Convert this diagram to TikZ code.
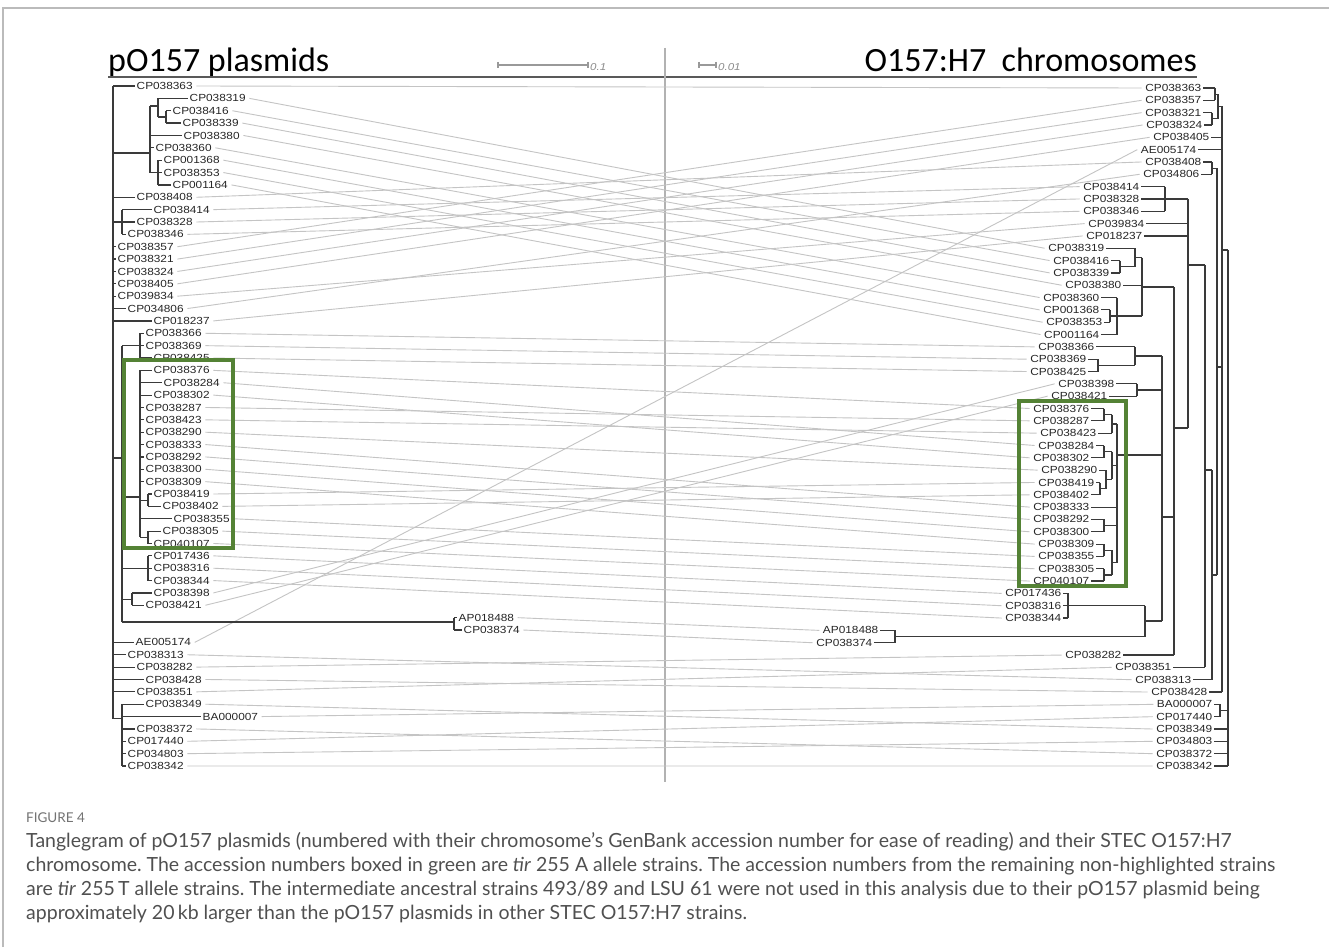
\documentclass[tikz,border=0pt]{standalone}
\usepackage{fontspec}
\setmainfont{Liberation Sans}
\newfontfamily\lblfont{Liberation Sans}[FakeStretch=1.15]
\newfontfamily\ttlfont{Carlito}
\newfontfamily\capfont{Lato}
\frenchspacing
\definecolor{treec}{HTML}{3A3A3A}
\definecolor{connc}{HTML}{C4C4C4}
\definecolor{boxgreen}{HTML}{548235}
\definecolor{framec}{HTML}{BBBBBB}
\definecolor{capc}{HTML}{505050}
\tikzset{
  lbl/.style={font=\lblfont\fontsize{10.3}{11}\selectfont, text=black!85, inner sep=1.5pt},
  llbl/.style={lbl, anchor=west},
  rlbl/.style={lbl, anchor=east},
  tree/.style={draw=treec, line width=1.2pt},
  conn/.style={draw=connc, line width=0.9pt},
  greenbox/.style={draw=boxgreen, line width=4pt},
  ttl/.style={font=\ttlfont\fontsize{34}{36}\selectfont, inner sep=0pt},
  capline/.style={font=\capfont\fontsize{19.5}{22}\selectfont, text=capc, anchor=west, inner sep=0pt},
  scalebar/.style={draw=black!40, line width=1.2pt},
  sclbl/.style={font=\lblfont\itshape\fontsize{10}{11}\selectfont, text=black!45, anchor=west, inner sep=1pt}
}
\newcommand\lb[2]{\draw[tree] (#1,0 |- l-#2.west) -- (l-#2.west);}
\newcommand\rb[2]{\draw[tree] (r-#2.east) -- (#1,0 |- r-#2.east);}
\begin{document}
\begin{tikzpicture}[x=1pt,y=-1pt]
\useasboundingbox (0,0) rectangle (1329,947);
\fill[white] (0,0) rectangle (1329,947);
\draw[draw=framec, line width=1.5pt] (3,947) -- (3,8) -- (1329,8);

% titles
\node[ttl, anchor=base west] (t1) at (108,72) {pO157 plasmids};
\node[ttl, anchor=base east] (t2) at (1197,72) {O157:H7\ \ chromosomes};
\draw[draw=black!65, line width=2pt] (108,77) -- (1197,77);
\draw[draw=black!30, line width=1.3pt] (665,48) -- (665,782);
% scale bars
\draw[scalebar] (498,62) -- (498,68) (498,65) -- (588,65) (588,62) -- (588,68);
\node[sclbl] (s1) at (589,67) {0.1};
\draw[scalebar] (699,62) -- (699,68) (699,65) -- (716,65) (716,62) -- (716,68);
\node[sclbl] (s2) at (717,67) {0.01};

% left leaves
\foreach \i/\n/\x in {1/CP038363/135,2/CP038319/188,3/CP038416/171,4/CP038339/181,5/CP038380/182,6/CP038360/154,7/CP001368/162,8/CP038353/162,9/CP001164/171,10/CP038408/135,11/CP038414/152,12/CP038328/135,13/CP038346/126,14/CP038357/116,15/CP038321/116,16/CP038324/116,17/CP038405/116,18/CP039834/116,19/CP034806/126,20/CP018237/152,21/CP038366/144,22/CP038369/144,23/CP038425/152,24/CP038376/152,25/CP038284/162,26/CP038302/152,27/CP038287/144,28/CP038423/144,29/CP038290/144,30/CP038333/144,31/CP038292/144,32/CP038300/144,33/CP038309/144,34/CP038419/152,35/CP038402/161,36/CP038355/172,37/CP038305/161,38/CP040107/152,39/CP017436/152,40/CP038316/152,41/CP038344/152,42/CP038398/152,43/CP038421/144,44/AP018488/457,45/CP038374/462,46/AE005174/134,47/CP038313/126,48/CP038282/135,49/CP038428/144,50/CP038351/135,51/CP038349/144,52/BA000007/201,53/CP038372/135,54/CP017440/126,55/CP034803/126,56/CP038342/126}
  {\node[llbl] (l-\n) at (\x,{86+(\i-1)*12.364}) {\n};}

% right leaves
\foreach \i/\n/\x in {1/CP038363/1203,2/CP038357/1203,3/CP038321/1203,4/CP038324/1204,5/CP038405/1211,6/AE005174/1198,7/CP038408/1203,8/CP034806/1201,9/CP038414/1141,10/CP038328/1141,11/CP038346/1141,12/CP039834/1146,13/CP018237/1144,14/CP038319/1106,15/CP038416/1111,16/CP038339/1111,17/CP038380/1123,18/CP038360/1101,19/CP001368/1101,20/CP038353/1104,21/CP001164/1101,22/CP038366/1096,23/CP038369/1088,24/CP038425/1088,25/CP038398/1116,26/CP038421/1109,27/CP038376/1091,28/CP038287/1091,29/CP038423/1098,30/CP038284/1096,31/CP038302/1091,32/CP038290/1099,33/CP038419/1096,34/CP038402/1091,35/CP038333/1091,36/CP038292/1091,37/CP038300/1091,38/CP038309/1096,39/CP038355/1096,40/CP038305/1096,41/CP040107/1091,42/CP017436/1063,43/CP038316/1063,44/CP038344/1063,45/AP018488/880,46/CP038374/874,47/CP038282/1123,48/CP038351/1173,49/CP038313/1193,50/CP038428/1209,51/BA000007/1214,52/CP017440/1214,53/CP038349/1214,54/CP034803/1214,55/CP038372/1214,56/CP038342/1214}
  {\node[rlbl] (r-\n) at (\x,{88+(\i-1)*12.327}) {\n};}

% connectors
\foreach \n in {CP038363,CP038319,CP038416,CP038339,CP038380,CP038360,CP001368,CP038353,CP001164,CP038408,CP038414,CP038328,CP038346,CP038357,CP038321,CP038324,CP038405,CP039834,CP034806,CP018237,CP038366,CP038369,CP038425,CP038376,CP038284,CP038302,CP038287,CP038423,CP038290,CP038333,CP038292,CP038300,CP038309,CP038419,CP038402,CP038355,CP038305,CP040107,CP017436,CP038316,CP038344,CP038398,CP038421,AP018488,CP038374,AE005174,CP038313,CP038282,CP038428,CP038351,CP038349,BA000007,CP038372,CP017440,CP034803,CP038342}
  {\draw[conn] ([xshift=2pt]l-\n.east) -- ([xshift=-2pt]r-\n.west);}

% ---------- left tree ----------
\draw[tree] (113,86) -- (113,718.5);
\foreach \n in {CP038363,CP038408,CP038357,CP038321,CP038324,CP038405,CP039834,CP034806,CP018237,AE005174,CP038313,CP038282,CP038428,CP038351} {\lb{113}{\n}}
% clade A
\draw[tree] (113,153) -- (150,153) (150,106) -- (150,172.5);
\draw[tree] (150,106) -- (158,106) (158,98.4) -- (158,117);
\lb{158}{CP038319}
\draw[tree] (158,117) -- (166,117) (166,110.7) -- (166,123.1);
\lb{166}{CP038416} \lb{166}{CP038339}
\lb{150}{CP038380} \lb{150}{CP038360}
\draw[tree] (150,172.5) -- (158,172.5) (158,160.2) -- (158,184.9);
\lb{158}{CP001368} \lb{158}{CP038353} \lb{158}{CP001164}
% clade B
\draw[tree] (113,222) -- (122,222) (122,209.6) -- (122,234.4);
\lb{122}{CP038414} \lb{122}{CP038328} \lb{122}{CP038346}
% clade C
\draw[tree] (113,458) -- (122,458) (122,345.6) -- (122,622);
\draw[tree] (122,345.6) -- (140,345.6) (140,333.3) -- (140,358);
\lb{140}{CP038366} \lb{140}{CP038369} \lb{140}{CP038425}
\draw[tree] (122,497) -- (140,497) (140,370.4) -- (140,537.3);
\foreach \n in {CP038376,CP038284,CP038302,CP038287,CP038423,CP038290,CP038333,CP038292,CP038300,CP038309,CP038355} {\lb{140}{\n}}
\draw[tree] (140,500.2) -- (148,500.2) (148,494) -- (148,506.4);
\lb{148}{CP038419} \lb{148}{CP038402}
\draw[tree] (140,537.3) -- (148,537.3) (148,531.1) -- (148,543.5);
\lb{148}{CP038305} \lb{148}{CP040107}
\draw[tree] (122,568.2) -- (148,568.2) (148,555.8) -- (148,580.5);
\lb{148}{CP017436} \lb{148}{CP038316} \lb{148}{CP038344}
\draw[tree] (122,599.1) -- (132,599.1) (132,592.9) -- (132,605.3);
\lb{132}{CP038398} \lb{132}{CP038421}
\draw[tree] (122,622) -- (454,622) (454,617.6) -- (454,630);
\lb{454}{AP018488} \lb{454}{CP038374}
% clade H
\draw[tree] (113,718.5) -- (122,718.5) (122,704.2) -- (122,766);
\foreach \n in {CP038349,BA000007,CP038372,CP017440,CP034803,CP038342} {\lb{122}{\n}}

% ---------- right tree ----------
\rb{1215}{CP038363} \rb{1215}{CP038357} \draw[tree] (1215,88) -- (1215,100.3) (1215,94.2) -- (1218,94.2);
\rb{1212}{CP038321} \rb{1212}{CP038324} \draw[tree] (1212,112.7) -- (1212,125) (1212,118.9) -- (1218,118.9);
\draw[tree] (1218,94.2) -- (1218,118.9) (1218,106.5) -- (1222,106.5);
\rb{1222}{CP038405} \rb{1222}{AE005174}
\rb{1212}{CP038408} \rb{1212}{CP034806} \draw[tree] (1212,162) -- (1212,174.3) (1212,168.2) -- (1217,168.2);
\rb{1165}{CP038414} \rb{1165}{CP038328} \rb{1165}{CP038346}
\draw[tree] (1165,186.6) -- (1165,211.3) (1165,198.9) -- (1188,198.9);
\rb{1188}{CP039834} \rb{1188}{CP018237}
% Y
\rb{1135}{CP038319}
\rb{1120}{CP038416} \rb{1120}{CP038339} \draw[tree] (1120,260.6) -- (1120,272.9) (1120,266.8) -- (1135,266.8);
\draw[tree] (1135,248.3) -- (1135,266.8) (1135,257.5) -- (1142,257.5);
\rb{1142}{CP038380}
\rb{1117}{CP038360} \rb{1110}{CP001368} \rb{1110}{CP038353}
\draw[tree] (1110,309.9) -- (1110,322.2) (1110,316) -- (1117,316);
\rb{1117}{CP001164}
\draw[tree] (1117,297.6) -- (1117,334.5) (1117,316) -- (1142,316);
\draw[tree] (1142,257.5) -- (1142,316) (1142,287) -- (1174,287);
% Z
\rb{1135}{CP038366} \rb{1098}{CP038369} \rb{1098}{CP038425}
\draw[tree] (1098,359.2) -- (1098,371.5) (1098,365.4) -- (1135,365.4);
\draw[tree] (1135,346.9) -- (1135,365.4) (1135,356) -- (1162,356);
\rb{1137}{CP038398} \rb{1137}{CP038421}
\draw[tree] (1137,383.8) -- (1137,396.2) (1137,390) -- (1162,390);
% boxed clade
\rb{1104}{CP038376} \rb{1104}{CP038287} \draw[tree] (1104,408.5) -- (1104,420.8) (1104,414.6) -- (1112,414.6);
\rb{1112}{CP038423} \draw[tree] (1112,414.6) -- (1112,433.2) (1112,424) -- (1117,424);
\rb{1104}{CP038284} \rb{1104}{CP038302} \draw[tree] (1104,445.5) -- (1104,457.8) (1104,451.7) -- (1112,451.7);
\rb{1106}{CP038290} \rb{1100}{CP038419} \rb{1100}{CP038402}
\draw[tree] (1100,482.5) -- (1100,494.8) (1100,488.6) -- (1106,488.6) (1106,470.1) -- (1106,488.6) (1106,479.4) -- (1112,479.4);
\draw[tree] (1112,451.7) -- (1112,479.4) (1112,465.5) -- (1117,465.5);
\rb{1117}{CP038333}
\rb{1104}{CP038292} \rb{1104}{CP038300} \draw[tree] (1104,519.4) -- (1104,531.8) (1104,525.6) -- (1117,525.6);
\rb{1104}{CP038309} \rb{1104}{CP038355} \draw[tree] (1104,544.1) -- (1104,556.4) (1104,550.3) -- (1112,550.3);
\rb{1104}{CP038305} \rb{1104}{CP040107} \draw[tree] (1104,568.8) -- (1104,581.1) (1104,575) -- (1112,575);
\draw[tree] (1112,550.3) -- (1112,575) (1112,562.6) -- (1117,562.6);
\draw[tree] (1117,424) -- (1117,562.6) (1117,455) -- (1162,455);
% bottom of Z
\rb{1068}{CP017436} \rb{1068}{CP038316} \rb{1068}{CP038344}
\draw[tree] (1068,593.4) -- (1068,618) (1068,605.7) -- (1145,605.7);
\rb{895}{AP018488} \rb{895}{CP038374}
\draw[tree] (895,630.4) -- (895,642.7) (895,636.5) -- (1145,636.5);
\draw[tree] (1145,605.7) -- (1145,636.5) (1145,621) -- (1162,621);
\draw[tree] (1162,356) -- (1162,621) (1162,517) -- (1174,517);
\rb{1174}{CP038282}
\draw[tree] (1174,287) -- (1174,655) (1174,428) -- (1188,428);
\draw[tree] (1188,198.9) -- (1188,428) (1188,265) -- (1205,265);
\rb{1205}{CP038351}
\draw[tree] (1205,265) -- (1205,667.3) (1205,470) -- (1212,470);
\rb{1212}{CP038313}
\draw[tree] (1212,470) -- (1212,679.7) (1212,575) -- (1217,575);
\draw[tree] (1217,168.2) -- (1217,575) (1217,367) -- (1222,367);
\rb{1222}{CP038428}
\draw[tree] (1222,106.5) -- (1222,692) (1222,250) -- (1228,250);
\rb{1220}{BA000007} \rb{1220}{CP017440}
\draw[tree] (1220,704.3) -- (1220,716.7) (1220,710.5) -- (1228,710.5);
\foreach \n in {CP038349,CP034803,CP038372,CP038342} {\rb{1228}{\n}}
\draw[tree] (1228,250) -- (1228,766);

% green boxes
\draw[greenbox] (124,360) rectangle (233,548);
\draw[greenbox] (1019,401) rectangle (1126,586);

% caption
\node[font=\capfont\fontsize{13.5}{14}\selectfont, text=black!55, anchor=west, inner sep=0pt] (fig) at (26,818) {FIGURE 4};
\node[capline] (c1) at (26,842) {Tanglegram of pO157 plasmids (numbered with their chromosome’s GenBank accession number for ease of reading) and their STEC O157:H7};
\node[capline] (c2) at (26,866) {chromosome. The accession numbers boxed in green are \textit{tir} 255 A allele strains. The accession numbers from the remaining non-highlighted strains};
\node[capline] (c3) at (26,890) {are \textit{tir} 255\,T allele strains. The intermediate ancestral strains 493/89 and LSU 61 were not used in this analysis due to their pO157 plasmid being};
\node[capline] (c4) at (26,914) {approximately 20\,kb larger than the pO157 plasmids in other STEC O157:H7 strains.};
\end{tikzpicture}
\end{document}
